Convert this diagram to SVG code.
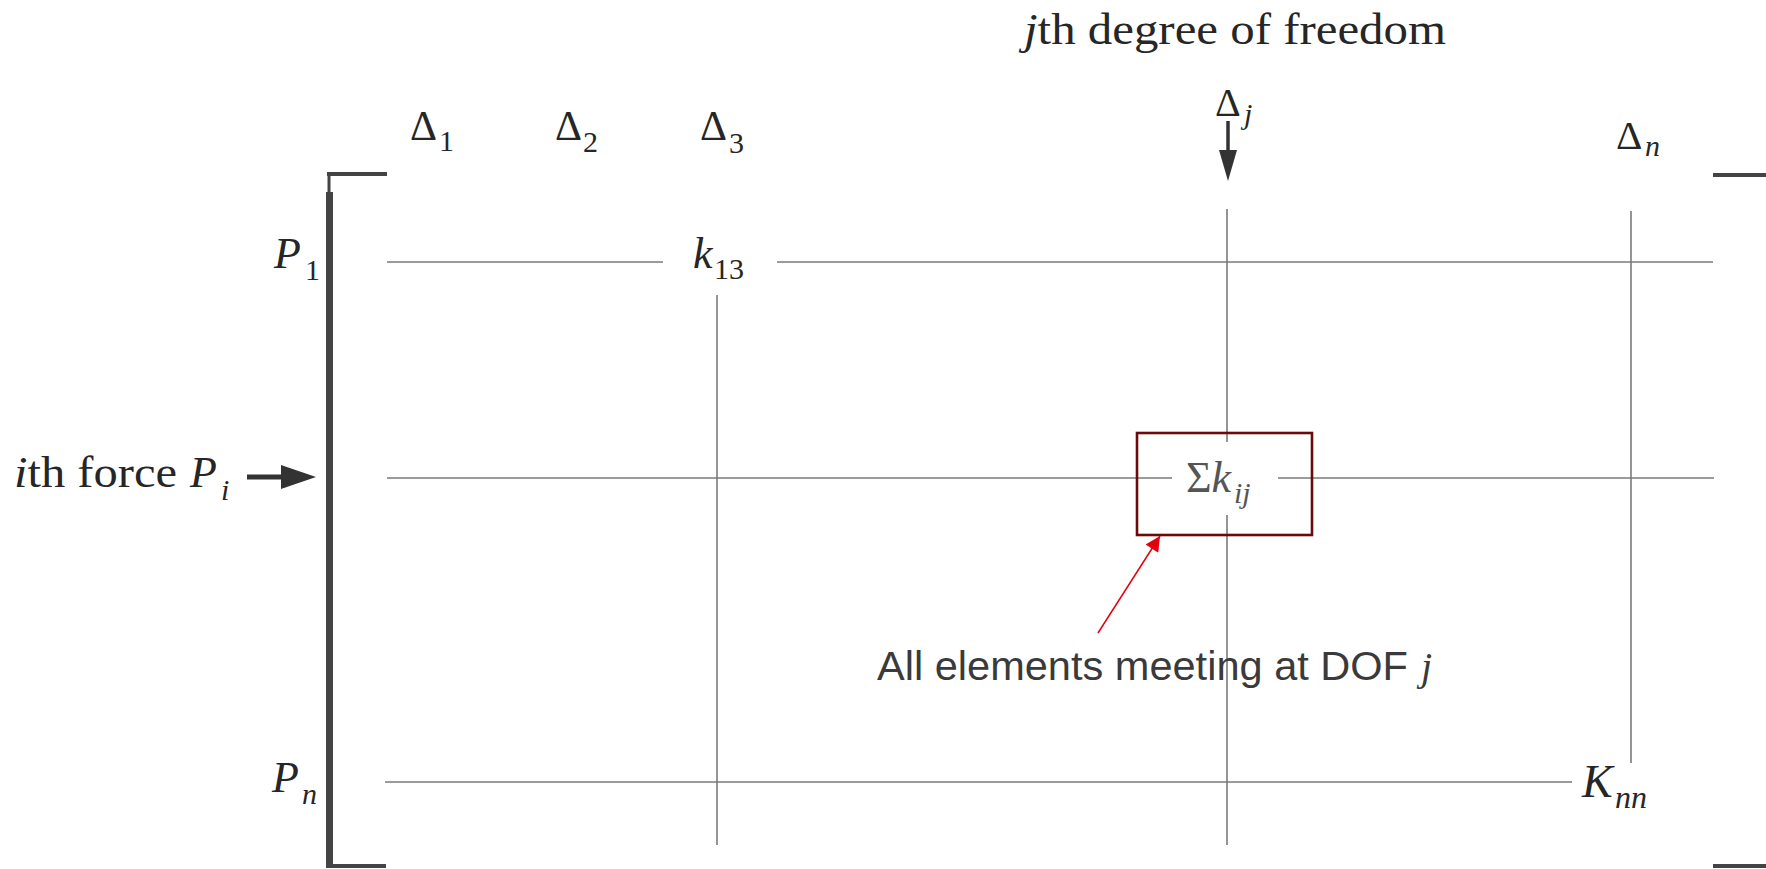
<svg xmlns="http://www.w3.org/2000/svg" width="1766" height="869" viewBox="0 0 1766 869">
<defs>
<style>
.serif{font-family:"Liberation Serif","Times New Roman",serif;fill:#262626}
.it{font-style:italic}
.main{font-size:44px}
.sub{font-size:30px}
.grid{stroke:#7a7a7a;stroke-width:1.6;fill:none}
.brk{stroke:#444;fill:none}
.sans{font-family:"Liberation Sans",Arial,sans-serif;fill:#3a3a3a}
</style>
<marker id="redhead" viewBox="0 0 10 10" refX="10" refY="5" markerWidth="17" markerHeight="15" markerUnits="userSpaceOnUse" orient="auto">
<path d="M0,0 L10,5 L0,10 Z" fill="#e3000f"/>
</marker>
</defs>
<rect width="1766" height="869" fill="#fff"/>

<g id="bracket-left">
<line class="brk" x1="327" y1="174" x2="387" y2="174" stroke-width="4"/>
<line class="brk" x1="329" y1="172" x2="329" y2="193" stroke-width="3"/>
<line class="brk" x1="329.5" y1="192" x2="329.5" y2="868" stroke-width="7"/>
<line class="brk" x1="327" y1="866" x2="386" y2="866" stroke-width="4"/>
</g>
<g id="bracket-right">
<line class="brk" x1="1713" y1="175" x2="1766" y2="175" stroke-width="4"/>
<line class="brk" x1="1713" y1="866" x2="1766" y2="866" stroke-width="4"/>
</g>

<g id="matrix-lines">
<line class="grid" x1="387" y1="262" x2="663" y2="262"/>
<line class="grid" x1="777" y1="262" x2="1713" y2="262"/>
<line class="grid" x1="387" y1="478" x2="1172" y2="478"/>
<line class="grid" x1="1278" y1="478" x2="1714" y2="478"/>
<line class="grid" x1="385" y1="782" x2="1572" y2="782"/>
<line class="grid" x1="717" y1="295" x2="717" y2="845"/>
<line class="grid" x1="1227" y1="209" x2="1227" y2="442"/>
<line class="grid" x1="1227" y1="515" x2="1227" y2="845"/>
<line class="grid" x1="1631" y1="211" x2="1631" y2="763"/>
</g>

<g id="title">
<text class="serif" x="1024" y="44" font-size="44" textLength="422" lengthAdjust="spacingAndGlyphs"><tspan class="it">j</tspan>th degree of freedom</text>
</g>

<g id="col-labels">
<text class="serif" x="410" y="140" font-size="42">Δ</text><text class="serif sub" x="439" y="151">1</text>
<text class="serif" x="555" y="140" font-size="42">Δ</text><text class="serif sub" x="583" y="152">2</text>
<text class="serif" x="700" y="140" font-size="42">Δ</text><text class="serif sub" x="729" y="153">3</text>
<text class="serif" x="1215" y="116" font-size="40">Δ</text><text class="serif sub it" x="1244" y="124">j</text>
<text class="serif" x="1616" y="149" font-size="41">Δ</text><text class="serif sub it" x="1645" y="156">n</text>
</g>

<g id="row-labels">
<text class="serif main it" x="274" y="268">P</text><text class="serif sub" x="305" y="280">1</text>
<text class="serif main" x="14" y="487" textLength="163" lengthAdjust="spacingAndGlyphs"><tspan class="it">i</tspan>th force</text>
<text class="serif main it" x="190" y="487">P</text><text class="serif sub it" x="221" y="500">i</text>
<text class="serif main it" x="272" y="792">P</text><text class="serif sub it" x="302" y="804">n</text>
</g>

<g id="k13">
<text class="serif main it" x="693" y="268">k</text><text class="serif sub" x="714" y="279">13</text>
</g>

<g id="knn">
<text class="serif it" x="1582" y="797" font-size="46">K</text><text class="serif it" x="1615" y="808" font-size="32">nn</text>
</g>

<g id="sum-kij">
<rect x="1137" y="433" width="175" height="102" fill="none" stroke="#6b0a0a" stroke-width="2.6"/>
<text class="serif" x="1186" y="492" font-size="44" style="fill:#555">Σ<tspan class="it">k</tspan></text>
<text class="serif sub it" x="1234" y="503" style="fill:#555" font-size="29">ij</text>
</g>

<g id="note">
<text class="sans" x="877" y="680" font-size="40" textLength="531" lengthAdjust="spacingAndGlyphs">All elements meeting at DOF</text>
<text class="serif it" x="1421" y="680" font-size="40" style="fill:#3a3a3a">j</text>
</g>

<g id="connectors">
<line x1="247" y1="477" x2="288" y2="477" stroke="#333" stroke-width="5"/>
<polygon points="281,465 316,477 281,489" fill="#333"/>
<line x1="1228" y1="121" x2="1228" y2="156" stroke="#333" stroke-width="3.5"/>
<polygon points="1219,150 1228,181 1237,150" fill="#333"/>
<line x1="1098" y1="633" x2="1160" y2="536" stroke="#e3000f" stroke-width="1.5" marker-end="url(#redhead)"/>
</g>
</svg>
